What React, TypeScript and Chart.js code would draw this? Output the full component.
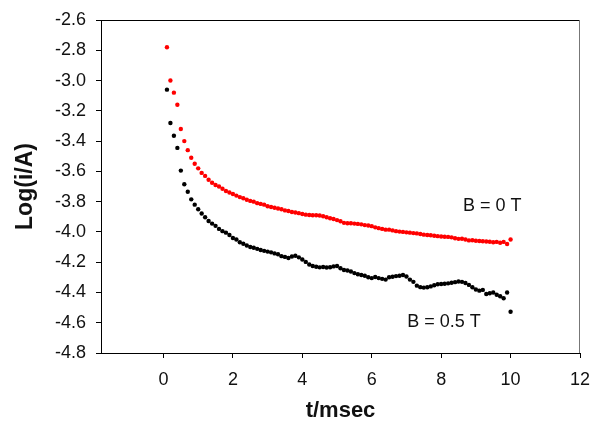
import React, { useEffect, useRef } from "react";
import { Chart, registerables } from "chart.js";

Chart.register(...registerables);

const times = [
  0.1, 0.2, 0.3, 0.4, 0.5, 0.6, 0.7, 0.8, 0.9, 1.0,
  1.1, 1.2, 1.3, 1.4, 1.5, 1.6, 1.7, 1.8, 1.9, 2.0,
  2.1, 2.2, 2.3, 2.4, 2.5, 2.6, 2.7, 2.8, 2.9, 3.0,
  3.1, 3.2, 3.3, 3.4, 3.5, 3.6, 3.7, 3.8, 3.9, 4.0,
  4.1, 4.2, 4.3, 4.4, 4.5, 4.6, 4.7, 4.8, 4.9, 5.0,
  5.1, 5.2, 5.3, 5.4, 5.5, 5.6, 5.7, 5.8, 5.9, 6.0,
  6.1, 6.2, 6.3, 6.4, 6.5, 6.6, 6.7, 6.8, 6.9, 7.0,
  7.1, 7.2, 7.3, 7.4, 7.5, 7.6, 7.7, 7.8, 7.9, 8.0,
  8.1, 8.2, 8.3, 8.4, 8.5, 8.6, 8.7, 8.8, 8.9, 9.0,
  9.1, 9.2, 9.3, 9.4, 9.5, 9.6, 9.7, 9.8, 9.9, 10.0,
];

const logI_B0 = [
  -2.78, -3.0, -3.08, -3.16, -3.32, -3.4, -3.46, -3.51, -3.55, -3.58,
  -3.61, -3.63, -3.655, -3.675, -3.69, -3.7, -3.715, -3.73, -3.74, -3.75,
  -3.76, -3.77, -3.778, -3.788, -3.795, -3.8, -3.81, -3.815, -3.82, -3.83,
  -3.835, -3.84, -3.845, -3.85, -3.858, -3.862, -3.868, -3.872, -3.876, -3.882,
  -3.886, -3.888, -3.89, -3.89, -3.892, -3.897, -3.903, -3.91, -3.915, -3.922,
  -3.93, -3.94, -3.943, -3.943, -3.945, -3.947, -3.95, -3.955, -3.958, -3.962,
  -3.97, -3.975, -3.98, -3.985, -3.985, -3.99, -3.995, -3.998, -4.0, -4.003,
  -4.005, -4.008, -4.01, -4.014, -4.018, -4.02, -4.022, -4.025, -4.028, -4.03,
  -4.032, -4.033, -4.036, -4.042, -4.046, -4.045, -4.05, -4.056, -4.055, -4.058,
  -4.06, -4.062, -4.063, -4.065, -4.068, -4.066, -4.072, -4.066, -4.08, -4.05,
];

const logI_B05 = [
  -3.06, -3.28, -3.365, -3.445, -3.595, -3.685, -3.735, -3.785, -3.82, -3.85,
  -3.878, -3.903, -3.928, -3.945, -3.96, -3.98, -3.995, -4.005, -4.02, -4.04,
  -4.05, -4.068, -4.078, -4.09, -4.1, -4.105, -4.112, -4.12, -4.125, -4.13,
  -4.135, -4.142, -4.148, -4.16, -4.165, -4.172, -4.162, -4.158, -4.168, -4.182,
  -4.198, -4.215, -4.225, -4.23, -4.234, -4.232, -4.235, -4.233, -4.228, -4.225,
  -4.24, -4.252, -4.255, -4.262, -4.272, -4.28, -4.285, -4.29, -4.3, -4.305,
  -4.298, -4.305, -4.31, -4.315, -4.3, -4.296, -4.292, -4.29, -4.285, -4.295,
  -4.315, -4.33, -4.355, -4.365, -4.368, -4.366, -4.36, -4.352, -4.346, -4.344,
  -4.342, -4.34, -4.336, -4.332, -4.328, -4.33, -4.338, -4.35, -4.366, -4.38,
  -4.388, -4.383, -4.41, -4.405, -4.4, -4.415, -4.425, -4.438, -4.4, -4.527,
];

const xTicks = [0, 2, 4, 6, 8, 10, 12];
const yTicks = [-4.8, -4.6, -4.4, -4.2, -4.0, -3.8, -3.6, -3.4, -3.2, -3.0, -2.8, -2.6];

const seriesLabels = ["B = 0 T", "B = 0.5 T"];
// label anchor positions in data units (t, log i)
const labelAnchors = [
  { x: 8.63, y: -3.862 },
  { x: 7.02, y: -4.628 },
];

const FONT = "'Liberation Sans', Arial, Helvetica, sans-serif";

const boxPlugin = {
  id: "boxPlugin",
  afterDraw(chart: any) {
    const { ctx, chartArea } = chart;
    const { left, right, top, bottom } = chartArea;
    ctx.save();
    ctx.lineWidth = 1;
    ctx.strokeStyle = "#000";
    ctx.beginPath();
    ctx.moveTo(left, top + 0.5);
    ctx.lineTo(right, top + 0.5);
    ctx.stroke();
    ctx.strokeStyle = "#777";
    ctx.beginPath();
    ctx.moveTo(right - 0.5, top);
    ctx.lineTo(right - 0.5, bottom);
    ctx.stroke();
    ctx.fillStyle = "#111";
    ctx.font = `18px ${FONT}`;
    ctx.textAlign = "left";
    ctx.textBaseline = "alphabetic";
    const xs = chart.scales.x;
    const ys = chart.scales.y;
    seriesLabels.forEach((txt, i) => {
      const a = labelAnchors[i];
      ctx.fillText(txt, xs.getPixelForValue(a.x), ys.getPixelForValue(a.y));
    });
    ctx.restore();
  },
};

export default function App() {
  const ref = useRef<HTMLCanvasElement | null>(null);

  useEffect(() => {
    if (!ref.current) return;
    const chart = new Chart(ref.current, {
      type: "scatter",
      data: {
        datasets: [
          {
            label: seriesLabels[0],
            data: times.map((t, i) => ({ x: t, y: logI_B0[i] })),
            backgroundColor: "#ff0000",
            borderColor: "#ff0000",
            pointRadius: 2.2,
            pointBorderWidth: 0,
            showLine: false,
          },
          {
            label: seriesLabels[1],
            data: times.map((t, i) => ({ x: t, y: logI_B05[i] })),
            backgroundColor: "#000000",
            borderColor: "#000000",
            pointRadius: 2.2,
            pointBorderWidth: 0,
            showLine: false,
          },
        ],
      },
      options: {
        animation: false,
        responsive: false,
        maintainAspectRatio: false,
        layout: { padding: { top: 20, right: 12, left: 0, bottom: 0 } },
        plugins: {
          legend: { display: false },
          tooltip: { enabled: false },
        },
        scales: {
          x: {
            type: "linear",
            min: -1.8,
            max: 12,
            afterBuildTicks: (scale: any) => {
              scale.ticks = xTicks.map((v) => ({ value: v }));
            },
            afterFit: (scale: any) => {
              scale.height = 73;
              scale.paddingLeft = 0;
              scale.paddingRight = 0;
            },
            grid: {
              drawOnChartArea: false,
              drawTicks: true,
              tickLength: 5,
              color: "#000",
            },
            border: { display: true, color: "#000", width: 1 },
            ticks: {
              color: "#111",
              font: { family: FONT, size: 18 },
              padding: 11,
              maxRotation: 0,
              autoSkip: false,
              callback: (v: any) => String(v),
            },
            title: {
              display: true,
              text: "t/msec",
              color: "#111",
              font: { family: FONT, size: 22, weight: "bold" },
              padding: { top: 0, bottom: 2 },
            },
          },
          y: {
            type: "linear",
            min: -4.8,
            max: -2.6,
            afterBuildTicks: (scale: any) => {
              scale.ticks = yTicks.map((v) => ({ value: v }));
            },
            afterFit: (scale: any) => {
              scale.width = 101;
              scale.paddingTop = 0;
              scale.paddingBottom = 0;
            },
            grid: {
              drawOnChartArea: false,
              drawTicks: true,
              tickLength: 5,
              color: "#000",
            },
            border: { display: true, color: "#000", width: 1 },
            ticks: {
              color: "#111",
              font: { family: FONT, size: 18 },
              padding: 10,
              autoSkip: false,
              callback: (v: any) => Number(v).toFixed(1),
            },
            title: {
              display: true,
              text: "Log(i/A)",
              color: "#111",
              font: { family: FONT, size: 23, weight: "bold" },
              padding: { top: 12, bottom: 0 },
            },
          },
        },
      },
      plugins: [boxPlugin],
    });
    return () => chart.destroy();
  }, []);

  return (
    <div style={{ position: "fixed", left: 0, top: 0, width: 592, height: 426, background: "#fff" }}>
      <canvas ref={ref} width={592} height={426} style={{ width: 592, height: 426, display: "block" }} />
    </div>
  );
}
